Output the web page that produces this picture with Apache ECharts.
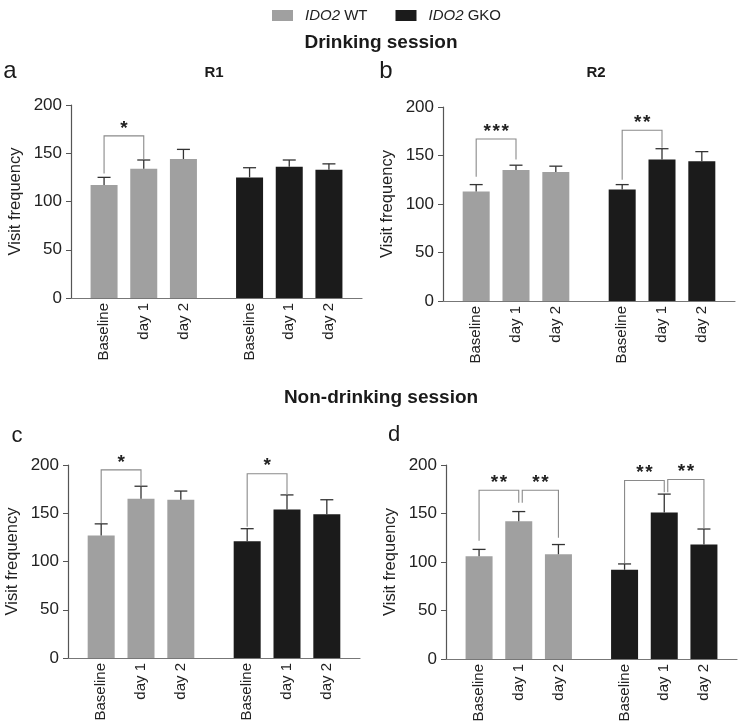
<!DOCTYPE html>
<html>
<head>
<meta charset="utf-8">
<script src="https://cdn.jsdelivr.net/npm/echarts@6/dist/echarts.min.js"></script>
<style>
  html, body { margin: 0; padding: 0; background: #fff; }
  #chart { width: 738px; height: 725px; }
</style>
</head>
<body>
<div id="chart"></div>
<script>
// categories per genotype group
const categories = ['Baseline', 'day 1', 'day 2'];
const yTicks = [0, 50, 100, 150, 200];

// panel a - drinking session, R1
const wtA = [117, 134, 144];
const wtSemA = [8, 9, 10];
const koA = [125, 136, 133];
const koSemA = [10, 7, 6];
// panel b - drinking session, R2
const wtB = [113, 135, 133];
const wtSemB = [7, 5, 6];
const koB = [115, 146, 144];
const koSemB = [5, 11, 10];
// panel c - non-drinking session, R1
const wtC = [127, 165, 164];
const wtSemC = [12, 13, 9];
const koC = [121, 154, 149];
const koSemC = [13, 15, 15];
// panel d - non-drinking session, R2
const wtD = [106, 142, 108];
const wtSemD = [7, 10, 10];
const koD = [92, 151, 118];
const koSemD = [6, 19, 16];

// significance brackets: [fromBar, toBar, top, leftLegEnd, rightLegEnd, stars]
const sigA = [[0, 1, 168, 129, 144, '*']];
const sigB = [[0, 1, 167, 128, 146, '***'], [3, 4, 176, 125, 158, '**']];
const sigC = [[0, 1, 195, 140, 178, '*'], [3, 4, 191, 136, 169, '*']];
const sigD = [[0, 1, 174, 122, 161, '**'], [1, 2, 174, 161, 125, '**'],
              [3, 4, 184, 99, 172, '**'], [4, 5, 185, 172, 135, '**']];

const WT_COLOR = '#a0a0a0';
const KO_COLOR = '#1b1b1b';
const FONT = 'Liberation Sans, Arial, sans-serif';

// bars sit on a slotted category axis so the two groups get a wider gap
const SLOTS = 22;
const slotOf = i => i < 3 ? 2 + 3 * i : 13 + 3 * (i - 3);
const xData = new Array(SLOTS).fill('');
categories.forEach((c, i) => { xData[slotOf(i)] = c; xData[slotOf(i + 3)] = c; });

const panels = [
  {grid: {left: 71, top: 105, width: 291, height: 193}, wt: wtA, wtSem: wtSemA, ko: koA, koSem: koSemA, sig: sigA},
  {grid: {left: 443, top: 107, width: 292, height: 194}, wt: wtB, wtSem: wtSemB, ko: koB, koSem: koSemB, sig: sigB},
  {grid: {left: 68, top: 465, width: 292, height: 193}, wt: wtC, wtSem: wtSemC, ko: koC, koSem: koSemC, sig: sigC},
  {grid: {left: 446, top: 465, width: 291, height: 194}, wt: wtD, wtSem: wtSemD, ko: koD, koSem: koSemD, sig: sigD}
];

const grids = [], xAxes = [], yAxes = [], series = [];

panels.forEach((p, k) => {
  grids.push(p.grid);
  xAxes.push({
    type: 'category', gridIndex: k, data: xData,
    axisLine: {lineStyle: {color: '#777', width: 1.2}},
    axisTick: {show: false},
    axisLabel: {interval: 0, rotate: 90, margin: 5, fontSize: 15, color: '#222', fontFamily: FONT}
  });
  yAxes.push({
    type: 'value', gridIndex: k, min: yTicks[0], max: yTicks[yTicks.length - 1], interval: 50,
    name: 'Visit frequency', nameLocation: 'middle', nameGap: 47,
    nameTextStyle: {fontSize: 16.5, color: '#222', fontFamily: FONT},
    axisLine: {show: true, lineStyle: {color: '#555', width: 1.2}},
    axisTick: {show: true, length: 5, lineStyle: {color: '#555'}},
    axisLabel: {margin: 9, fontSize: 17, color: '#222', fontFamily: FONT},
    splitLine: {show: false}
  });

  const means = p.wt.concat(p.ko);
  const sems = p.wtSem.concat(p.koSem);

  series.push({
    name: 'WT', type: 'bar', xAxisIndex: k, yAxisIndex: k,
    barWidth: 27, barGap: '-100%', itemStyle: {color: WT_COLOR},
    data: p.wt.map((v, i) => [slotOf(i), v])
  });
  series.push({
    name: 'GKO', type: 'bar', xAxisIndex: k, yAxisIndex: k,
    barWidth: 27, barGap: '-100%', itemStyle: {color: KO_COLOR},
    data: p.ko.map((v, i) => [slotOf(i + 3), v])
  });

  // upper error bars
  series.push({
    type: 'custom', xAxisIndex: k, yAxisIndex: k, silent: true, z: 3,
    data: means.map((m, i) => [slotOf(i), m, m + sems[i]]),
    renderItem: (params, api) => {
      const base = api.coord([api.value(0), api.value(1)]);
      const top = api.coord([api.value(0), api.value(2)]);
      const st = {stroke: '#333', lineWidth: 1.3};
      return {type: 'group', children: [
        {type: 'line', shape: {x1: base[0], y1: base[1], x2: top[0], y2: top[1]}, style: st},
        {type: 'line', shape: {x1: top[0] - 6.5, y1: top[1], x2: top[0] + 6.5, y2: top[1]}, style: st}
      ]};
    }
  });

  // significance brackets
  series.push({
    type: 'custom', xAxisIndex: k, yAxisIndex: k, silent: true, z: 4,
    data: p.sig.map(s => [slotOf(s[0]), slotOf(s[1]), s[2], s[3], s[4], s[5]]),
    renderItem: (params, api) => {
      const s = p.sig[params.dataIndex];
      // shift the left leg when it shares a bar with the previous bracket
      const shared = p.sig.some(o => o[1] === s[0]);
      const l = api.coord([api.value(0), api.value(2)]);
      const r = api.coord([api.value(1), api.value(2)]);
      const lEnd = api.coord([api.value(0), api.value(3)]);
      const rEnd = api.coord([api.value(1), api.value(4)]);
      const lx = l[0] + (shared ? 3.5 : 0);
      const children = [{
        type: 'polyline',
        shape: {points: [[lx, lEnd[1]], [lx, l[1]], [r[0], r[1]], [r[0], rEnd[1]]]},
        style: {stroke: '#8a8a8a', lineWidth: 1.1, fill: null}
      }];
      const stars = s[5].length;
      const cx = (lx + r[0]) / 2;
      for (let j = 0; j < stars; j++) {
        children.push({
          type: 'text',
          x: cx + (j - (stars - 1) / 2) * 9, y: l[1] + 2,
          style: {text: '*', font: 'bold 19px ' + FONT, fill: '#222', align: 'center', verticalAlign: 'bottom'}
        });
      }
      return {type: 'group', children: children};
    }
  });
});

const textEl = (text, x, y, font) => ({
  type: 'text', x: x, y: y,
  style: {text: text, font: font, fill: '#1a1a1a', align: 'center', verticalAlign: 'middle'}
});

const chart = echarts.init(document.getElementById('chart'));
chart.setOption({
  backgroundColor: '#fff',
  animation: false,
  legend: {
    data: ['WT', 'GKO'], left: 267, top: 3, icon: 'rect',
    itemWidth: 21, itemHeight: 11, itemGap: 28,
    formatter: name => '{i|IDO2} ' + name,
    textStyle: {fontSize: 15, color: '#222', fontFamily: FONT, padding: [0, 0, 0, 7],
      rich: {i: {fontStyle: 'italic', fontSize: 15, color: '#222', fontFamily: FONT}}}
  },
  graphic: [
    textEl('Drinking session', 381, 43, 'bold 19px ' + FONT),
    textEl('Non-drinking session', 381, 398, 'bold 19px ' + FONT),
    textEl('a', 10, 71, '24px ' + FONT),
    textEl('b', 386, 71, '24px ' + FONT),
    textEl('R1', 214, 73, 'bold 15px ' + FONT),
    textEl('R2', 596, 73, 'bold 15px ' + FONT),
    textEl('c', 17, 436, '22px ' + FONT),
    textEl('d', 394, 435, '22px ' + FONT)
  ],
  grid: grids,
  xAxis: xAxes,
  yAxis: yAxes,
  series: series
});
</script>
</body>
</html>
